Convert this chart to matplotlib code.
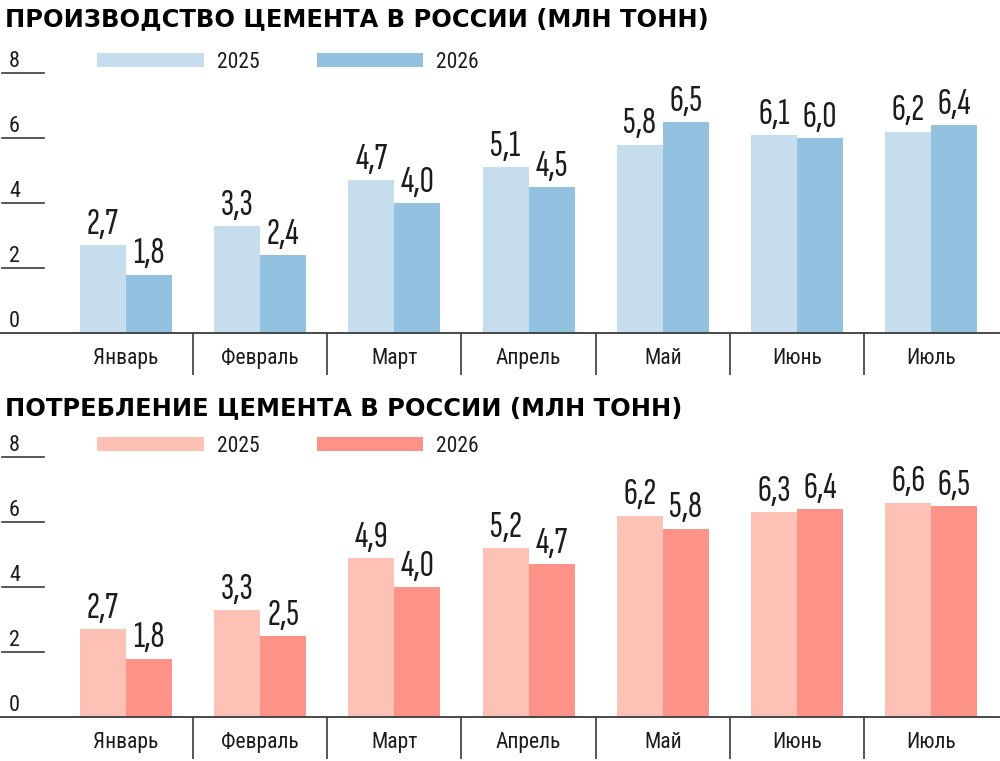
import numpy as np
import matplotlib
matplotlib.use('Agg')
import matplotlib.pyplot as plt
import matplotlib.transforms as mtransforms

# data
months = ['Январь', 'Февраль', 'Март', 'Апрель', 'Май', 'Июнь', 'Июль']
years = ['2025', '2026']
prod_2025 = [2.7, 3.3, 4.7, 5.1, 5.8, 6.1, 6.2]
prod_2026 = [1.8, 2.4, 4.0, 4.5, 6.5, 6.0, 6.4]
cons_2025 = [2.7, 3.3, 4.9, 5.2, 6.2, 6.3, 6.6]
cons_2026 = [1.8, 2.5, 4.0, 4.7, 5.8, 6.4, 6.5]
yticks = [0, 2, 4, 6, 8]

title_prod = 'ПРОИЗВОДСТВО ЦЕМЕНТА В РОССИИ (МЛН ТОНН)'
title_cons = 'ПОТРЕБЛЕНИЕ ЦЕМЕНТА В РОССИИ (МЛН ТОНН)'

narrow = ['Roboto Condensed', 'DejaVu Sans']
xnarrow = ['Sofia Sans Extra Condensed', 'Roboto Condensed', 'DejaVu Sans']
ink = '#1c1c1c'
line_c = '#3a3a3a'

fig = plt.figure(figsize=(10, 7.61), dpi=100)


def draw_panel(ax, v25, v26, colors):
    x = np.arange(len(months))
    w = 0.343
    b1 = ax.bar(x - w / 2, v25, w, color=colors[0], label=years[0], linewidth=0)
    b2 = ax.bar(x + w / 2, v26, w, color=colors[1], label=years[1], linewidth=0)
    # value labels
    for bars, vals in ((b1, v25), (b2, v26)):
        for rect, v in zip(bars, vals):
            ax.annotate(f'{v:.1f}'.replace('.', ','),
                        (rect.get_x() + rect.get_width() / 2, v),
                        xytext=(0, 3), textcoords='offset points',
                        ha='center', va='bottom', fontsize=28,
                        family=xnarrow, color=ink)
    ax.set_xlim(-0.939, 6.513)
    ax.set_ylim(0, 8.8)
    for s in ['top', 'left', 'right']:
        ax.spines[s].set_visible(False)
    ax.spines['bottom'].set_color(line_c)
    ax.spines['bottom'].set_linewidth(1.3)
    # month labels + separators between months
    ax.set_xticks(x)
    ax.set_xticklabels(months, family=narrow, fontsize=15.5, color=ink)
    ax.set_xticks(x[:-1] + 0.5, minor=True)
    ax.tick_params(axis='x', which='major', length=0, pad=11)
    ax.tick_params(axis='x', which='minor', length=30, width=1.2,
                   color=line_c, direction='out')
    # y labels sitting on short lines at the left
    ax.set_yticks([])
    trans = mtransforms.blended_transform_factory(ax.transAxes, ax.transData)
    for t in yticks:
        ax.annotate(str(t), (0.009, t), xycoords=trans, xytext=(0, 1),
                    textcoords='offset points', ha='left', va='bottom',
                    fontsize=16, family=narrow, color=ink)
        if t > 0:
            ax.axhline(t, xmin=0.002, xmax=0.044, color=line_c, lw=1.2)
    leg = ax.legend(loc='center left', bbox_to_anchor=(0.097, 0.947),
                    ncol=2, frameon=False, borderpad=0, borderaxespad=0,
                    handlelength=4.95, handleheight=0.62, handletextpad=0.62,
                    columnspacing=2.65, prop={'family': narrow, 'size': 15.5})
    for txt in leg.get_texts():
        txt.set_color(ink)


ax1 = fig.add_axes([0, 0.5624, 1, 0.3758])
draw_panel(ax1, prod_2025, prod_2026, ['#c6ddee', '#93c2e1'])
ax2 = fig.add_axes([0, 0.0578, 1, 0.3758])
draw_panel(ax2, cons_2025, cons_2026, ['#fdc1b5', '#fd9388'])

fig.text(0.005, 0.975, title_prod, ha='left', va='center', fontsize=17.4,
         fontweight='bold', family='DejaVu Sans', color='black')
fig.text(0.005, 0.464, title_cons, ha='left', va='center', fontsize=17.4,
         fontweight='bold', family='DejaVu Sans', color='black')

fig.savefig('out.png', dpi=100)
